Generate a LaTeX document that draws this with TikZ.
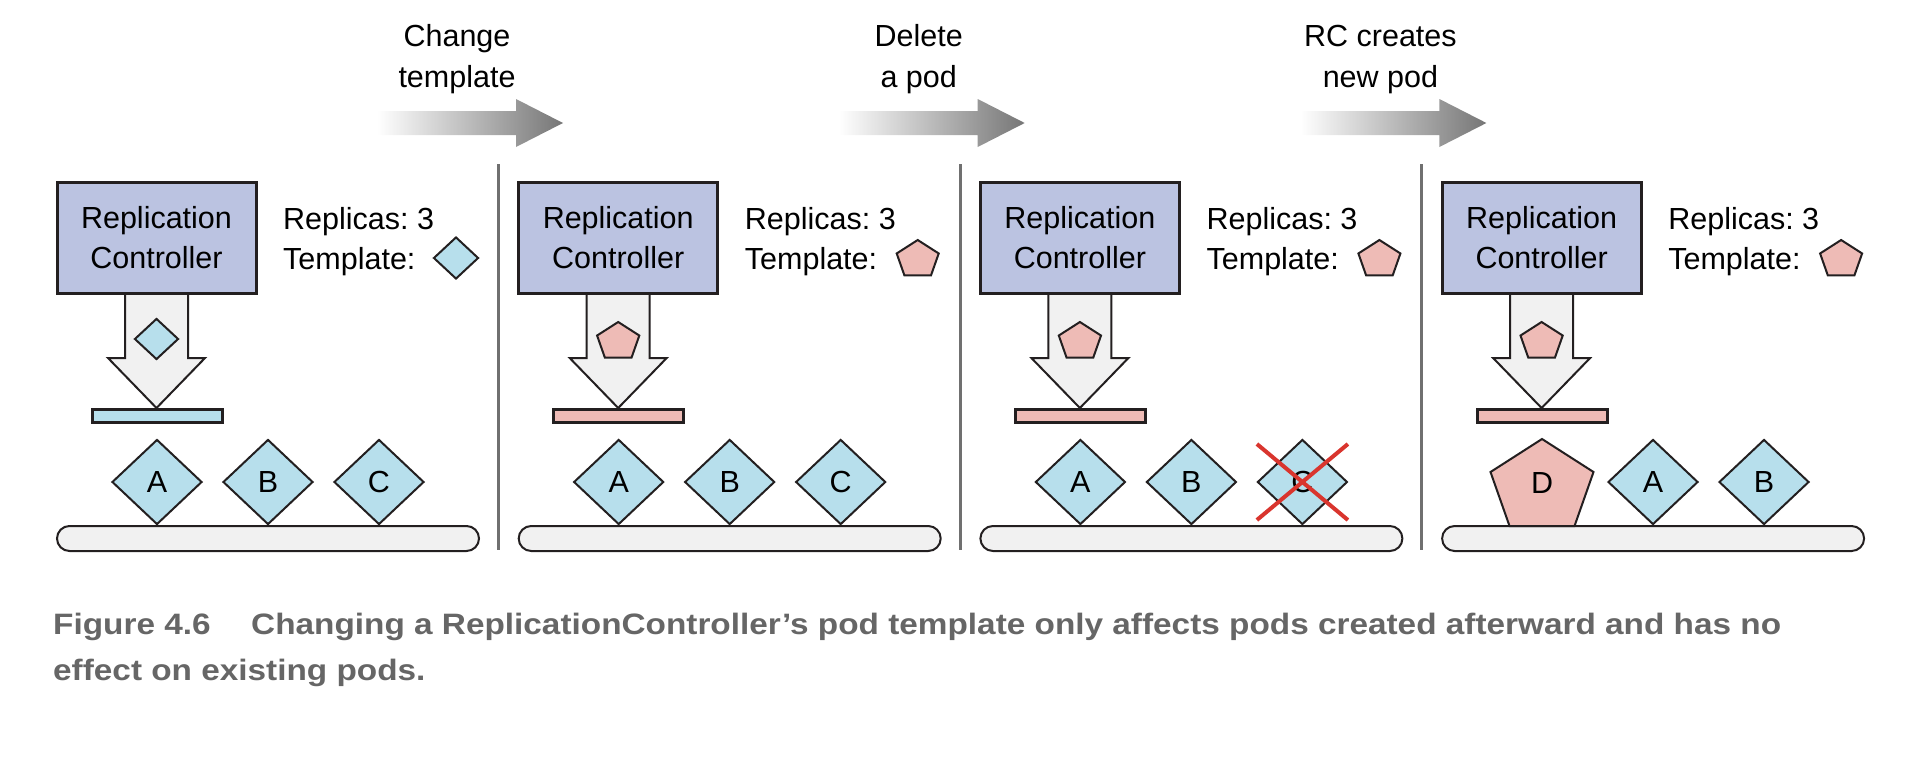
\documentclass[tikz,border=0pt]{standalone}
\usepackage{fontspec}
\setmainfont{Liberation Sans}
\newfontfamily\capfont[FakeStretch=1.13]{Liberation Sans}
\usetikzlibrary{shapes.geometric}
\definecolor{rcfill}{RGB}{187,195,225}
\definecolor{podblue}{RGB}{183,223,236}
\definecolor{podpink}{RGB}{238,187,182}
\definecolor{lightfill}{RGB}{241,241,241}
\definecolor{edgecol}{RGB}{35,31,32}
\definecolor{sepgray}{RGB}{112,112,112}
\definecolor{xred}{RGB}{217,53,46}
\definecolor{capgray}{RGB}{102,102,102}
\definecolor{arrowgray}{RGB}{118,118,118}
\frenchspacing
\begin{document}
\begin{tikzpicture}[x=1pt,y=-1pt,
  font=\fontsize{30.5}{40}\selectfont,
  rcbox/.style={draw=edgecol, line width=3pt, fill=rcfill, minimum width=199pt, minimum height=111pt, inner sep=0pt, align=center},
  txtw/.style={anchor=base west, inner sep=0pt},
  txtc/.style={anchor=base, inner sep=0pt},
  podshape/.style={diamond, draw=edgecol, line width=2pt, fill=podblue, minimum width=90pt, minimum height=85pt, inner sep=0pt, aspect=1.06},
  tdiashape/.style={diamond, draw=edgecol, line width=2pt, fill=podblue, minimum width=44pt, minimum height=41pt, inner sep=0pt, aspect=1.07},
  pentshape/.style={draw=edgecol, line width=2pt, fill=podpink, line join=miter},
  feedbar/.style={draw=edgecol, line width=3pt},
  groundbar/.style={draw=edgecol, line width=2pt, fill=lightfill, rectangle, rounded corners=12.5pt, minimum width=422pt, minimum height=25pt, inner sep=0pt},
  bigarrow/.style={draw=edgecol, line width=2pt, fill=lightfill, line join=miter},
  seprule/.style={draw=sepgray, line width=3pt},
  flowarrow/.style={left color=white, right color=arrowgray},
  captxt/.style={anchor=base west, inner sep=0pt, text=capgray, font=\capfont\bfseries\fontsize{29.5}{44}\selectfont},
  xcross/.style={draw=xred, line width=4pt}
]
\useasboundingbox (0,0) rectangle (1932,760);

% panels: common parts
\foreach \i in {0,1,2,3} {
  \begin{scope}[xshift=\i*461.7pt]
    \draw[bigarrow] (125,292) -- (188,292) -- (188,358) -- (205,358) -- (156.5,408) -- (108,358) -- (125,358) -- cycle;
    \node[rcbox] (rc\i) at (156.5,237.5) {Replication\\Controller};
    \node[txtw] (rep\i) at (283,229) {Replicas: 3};
    \node[txtw] (tpl\i) at (283,269) {Template:};
    \node[groundbar] (ground\i) at (268,538.5) {};
  \end{scope}
}

% feed bars
\draw[feedbar, fill=podblue] (92,409) rectangle (222,422);
\foreach \i in {1,2,3} {
  \draw[feedbar, fill=podpink, xshift=\i*461.7pt] (92,409) rectangle (222,422);
}

% separators
\foreach \i in {0,1,2} {
  \draw[seprule, xshift=\i*461.7pt] (498.5,164) -- (498.5,550);
}

% flow arrows
\foreach \i in {0,1,2} {
  \shade[flowarrow, xshift=\i*461.7pt] (377,111) -- (516,111) -- (516,99) -- (563,123) -- (516,147) -- (516,135) -- (377,135) -- cycle;
}

% flow labels
\node[txtc] (l1a) at (457,47) {Change};
\node[txtc] (l1b) at (457,87) {template};
\node[txtc] (l2a) at (918.7,47) {Delete};
\node[txtc] (l2b) at (918.7,87) {a pod};
\node[txtc] (l3a) at (1380.4,47) {RC creates};
\node[txtc] (l3b) at (1380.4,87) {new pod};

% templates panel 1
\node[tdiashape, minimum width=45pt, minimum height=42pt] (t0) at (456,258) {};
\node[tdiashape] (a0) at (156.5,339) {};

% template pentagons panels 2-4
\foreach \i in {1,2,3} {
  \draw[pentshape, shift={(456+\i*461.7,240)}, scale=0.408] (0,0) -- (51.5,33) -- (32.5,87) -- (-32.5,87) -- (-51.5,33) -- cycle;
  \draw[pentshape, shift={(156.5+\i*461.7,322)}, scale=0.41] (0,0) -- (51.5,33) -- (32.5,87) -- (-32.5,87) -- (-51.5,33) -- cycle;
}

% pods panel 1
\node[podshape] (p1a) at (157,482) {A};
\node[podshape] (p1b) at (268,482) {B};
\node[podshape] (p1c) at (379,482) {C};
% pods panel 2
\node[podshape] (p2a) at (618.7,482) {A};
\node[podshape] (p2b) at (729.7,482) {B};
\node[podshape] (p2c) at (840.7,482) {C};
% pods panel 3
\node[podshape] (p3a) at (1080.4,482) {A};
\node[podshape] (p3b) at (1191.4,482) {B};
\node[podshape] (p3c) at (1302.4,482) {C};
\draw[xcross] ([shift={(-45.5,-38)}]p3c.center) -- ([shift={(45.5,38)}]p3c.center);
\draw[xcross] ([shift={(45.5,-38)}]p3c.center) -- ([shift={(-45.5,38)}]p3c.center);
% pods panel 4
\draw[pentshape, shift={(1542,439)}] (0,0) -- (51.5,33) -- (32.5,87) -- (-32.5,87) -- (-51.5,33) -- cycle;
\node[inner sep=0pt] (p4d) at (1542,483) {D};
\node[podshape] (p4a) at (1653,482) {A};
\node[podshape] (p4b) at (1764,482) {B};

% caption
\node[captxt] (figno) at (53,634) {Figure 4.6};
\node[captxt] (cap1) at (251,634) {Changing a ReplicationController’s pod template only affects pods created afterward and has no};
\node[captxt] (cap2) at (53,680) {effect on existing pods.};
\end{tikzpicture}
\end{document}
